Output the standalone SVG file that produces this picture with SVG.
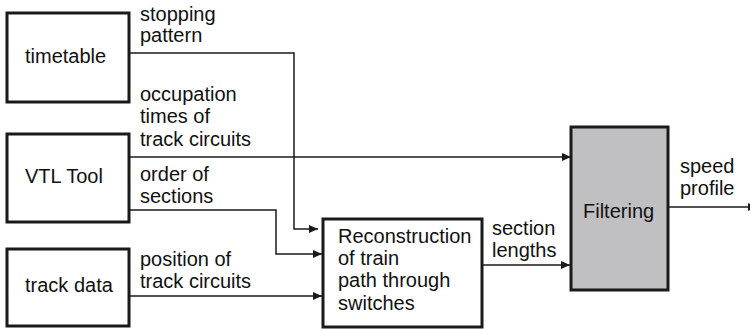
<svg xmlns="http://www.w3.org/2000/svg" width="750" height="329" viewBox="0 0 750 329">
<style>
text{font-family:"Liberation Sans",Arial,sans-serif;font-size:20px;fill:#111}
.box{fill:#fff;stroke:#1a1a1a;stroke-width:3}
.line{fill:none;stroke:#1a1a1a;stroke-width:1.5}
</style>
<defs>
<marker id="ah" markerWidth="9" markerHeight="8" refX="9" refY="4" orient="auto" markerUnits="userSpaceOnUse">
<path d="M0,0 L9,4 L0,8 Z" fill="#1a1a1a"/>
</marker>
</defs>
<rect width="750" height="329" fill="#fff"/>
<g id="timetable"><rect class="box" x="7" y="13" width="122" height="89"/><text x="25" y="63">timetable</text></g>
<g id="vtl"><rect class="box" x="7" y="134" width="122" height="88"/><text x="25" y="183">VTL Tool</text></g>
<g id="trackdata"><rect class="box" x="7" y="249" width="122" height="77"/><text x="25" y="292">track data</text></g>
<g id="reconstruction"><rect class="box" x="323" y="219" width="159" height="108"/>
<text x="338" y="243">Reconstruction</text><text x="338" y="265">of train</text><text x="338" y="287">path through</text><text x="338" y="310">switches</text></g>
<g id="filtering"><rect class="box" x="571" y="127" width="97" height="163" style="fill:#c0c0c2"/><text x="583" y="218">Filtering</text></g>
<g id="connectors">
<path class="line" d="M129,53 H294 V229 H318" marker-end="url(#ah)"/>
<path class="line" d="M129,157 H571" marker-end="url(#ah)"/>
<path class="line" d="M129,210 H276 V254 H322" marker-end="url(#ah)"/>
<path class="line" d="M129,296 H322" marker-end="url(#ah)"/>
<path class="line" d="M482,265 H570" marker-end="url(#ah)"/>
<path class="line" d="M668,207 H757" marker-end="url(#ah)"/>
</g>
<g id="labels">
<text x="140" y="21">stopping</text><text x="140" y="42">pattern</text>
<text x="140" y="101">occupation</text><text x="140" y="123">times of</text><text x="140" y="146">track circuits</text>
<text x="140" y="181">order of</text><text x="140" y="203">sections</text>
<text x="140" y="266">position of</text><text x="140" y="288">track circuits</text>
<text x="492" y="235">section</text><text x="492" y="257">lengths</text>
<text x="680" y="173">speed</text><text x="680" y="195">profile</text>
</g>
</svg>
